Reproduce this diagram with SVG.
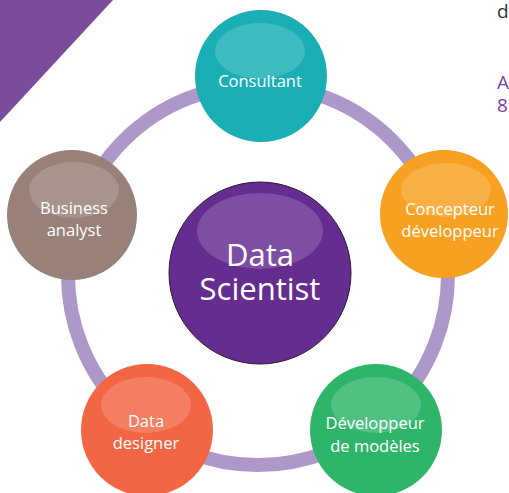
<svg xmlns="http://www.w3.org/2000/svg" width="509" height="493" viewBox="0 0 509 493">
<style>
.lbl{font-family:"Open Sans","Noto Sans",sans-serif;fill:#fff;text-anchor:middle;font-size:16.5px}
.big{font-size:31px}
.hl{fill:#fff;fill-opacity:0.16}
.side{font-family:"Open Sans",sans-serif;font-size:19px}
</style>
<rect width="509" height="493" fill="#fff"/>
<polygon points="0,0 113,0 0,122" fill="#7b4c9b"/>
<text class="side" x="497" y="18" fill="#333">d</text>
<text class="side" x="497" y="89" fill="#7a3fa0">A</text>
<text class="side" x="497" y="112" fill="#7a3fa0">8</text>
<g id="connectors">
<circle cx="258" cy="275" r="190" fill="none" stroke="#ae97c9" stroke-width="14"/>
</g>
<g id="consultant">
<circle cx="261" cy="76" r="66" fill="#1aafb4"/>
<ellipse class="hl" cx="260" cy="51" rx="45" ry="28"/>
<text class="lbl" x="260" y="87">Consultant</text>
</g>
<g id="concepteur">
<circle cx="444" cy="214" r="64" fill="#f7a021"/>
<ellipse class="hl" cx="446" cy="190" rx="45" ry="27"/>
<text class="lbl" x="450" y="215">Concepteur</text>
<text class="lbl" x="450" y="237">développeur</text>
</g>
<g id="business">
<circle cx="72" cy="215" r="65" fill="#978178"/>
<ellipse class="hl" cx="74" cy="190" rx="45" ry="28"/>
<text class="lbl" x="74" y="214">Business</text>
<text class="lbl" x="74" y="236">analyst</text>
</g>
<g id="datadesigner">
<circle cx="147" cy="430" r="66" fill="#f26644"/>
<ellipse class="hl" cx="146" cy="405" rx="45" ry="28"/>
<text class="lbl" x="146" y="427">Data</text>
<text class="lbl" x="146" y="449">designer</text>
</g>
<g id="developpeur">
<circle cx="376" cy="430" r="66" fill="#2fb56a"/>
<ellipse class="hl" cx="376" cy="405" rx="45" ry="28"/>
<text class="lbl" x="375" y="429">Développeur</text>
<text class="lbl" x="375" y="452">de modèles</text>
</g>
<g id="datascientist">
<circle cx="260" cy="273" r="91" fill="#652d90" stroke="#2a1a33" stroke-width="1"/>
<ellipse class="hl" cx="260" cy="231" rx="63" ry="38"/>
<text class="lbl big" x="260" y="266">Data</text>
<text class="lbl big" x="260" y="300">Scientist</text>
</g>
</svg>
